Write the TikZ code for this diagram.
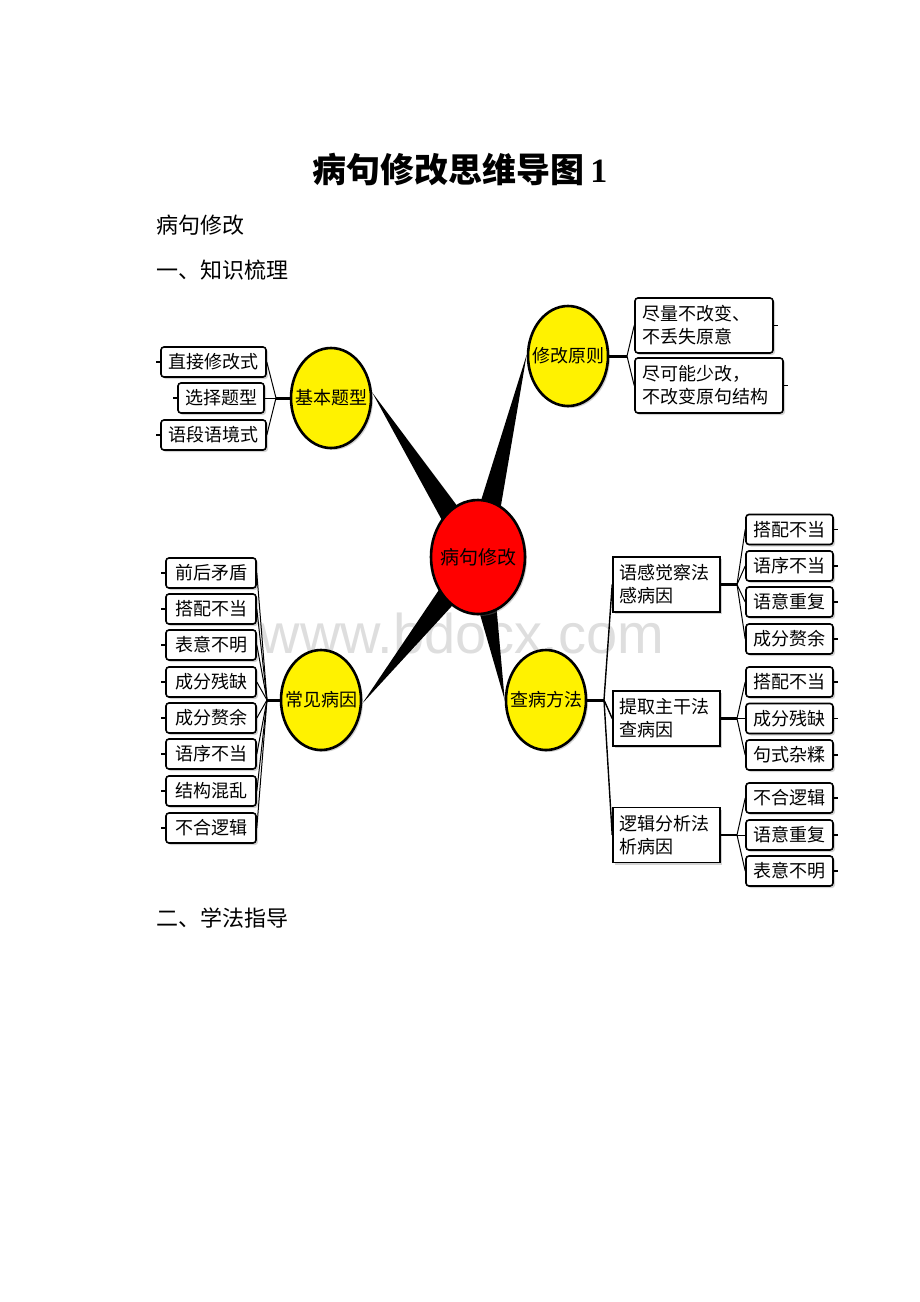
\documentclass[tikz,border=0pt]{standalone}
\usepackage{fontspec}
\setmainfont{Liberation Serif}
\newfontfamily\cjk{Noto Sans CJK SC}
\usetikzlibrary{shapes.geometric,calc,shadows,backgrounds}
\begin{document}
\begin{tikzpicture}[x=1pt,y=-1pt,
  shad/.style={drop shadow={opacity=0.35,shadow xshift=2pt,shadow yshift=-2pt}},
  ell/.style={ellipse,draw,line width=2.6pt,minimum width=80pt,minimum height=100pt,inner sep=0pt,fill=yellow,shad},
  lbl/.style={inner sep=0pt,font=\cjk\fontsize{18}{22}\selectfont},
  leaf/.style={draw,line width=1.6pt,rounded corners=3pt,fill=white,minimum height=30pt,inner sep=0pt,font=\cjk\fontsize{18}{22}\selectfont,shad},
  pbox/.style={draw,line width=1.6pt,rounded corners=3pt,fill=white,minimum height=55pt,inner xsep=7pt,inner ysep=0pt,align=left,font=\cjk\fontsize{18}{23}\selectfont,shad},
  mbox/.style={draw,line width=1.6pt,fill=white,minimum height=55pt,text width=95pt,inner xsep=6pt,inner ysep=0pt,align=left,font=\cjk\fontsize{18}{23}\selectfont,shad},
  trunk/.style={line width=3pt},
  twig/.style={line width=1pt},
  tick/.style={line width=1.2pt}
]
\useasboundingbox (0,0) rectangle (920,1302);

% page texts
\node[inner sep=0pt,font=\cjk\bfseries\fontsize{34}{40}\selectfont] (title) at (460,170) {病句修改思维导图\,{\rmfamily\bfseries 1}};
\node[anchor=west,inner sep=0pt,font=\cjk\fontsize{22}{26}\selectfont] (t1) at (156,225) {病句修改};
\node[anchor=west,inner sep=0pt,font=\cjk\fontsize{22}{26}\selectfont] (t2) at (156,270) {一、知识梳理};
\node[anchor=west,inner sep=0pt,font=\cjk\fontsize{22}{26}\selectfont] (t3) at (156,918) {二、学法指导};

% main nodes
\node[ellipse,draw,line width=2.6pt,minimum width=94pt,minimum height=114pt,inner sep=0pt,fill=red,shad] (c) at (478,557) {};
\node[lbl,font=\cjk\fontsize{19}{22}\selectfont] at (c) {病句修改};
\node[ell] (kb) at (331,398) {};
\node[lbl] at (kb) {基本题型};
\node[ell] (xg) at (568,356) {};
\node[lbl] at (xg) {修改原则};
\node[ell] (cj) at (321,700) {};
\node[lbl] at (cj) {常见病因};
\node[ell] (cf) at (546,700) {};
\node[lbl] at (cf) {查病方法};

% wedges and watermark behind
\begin{pgfonlayer}{background}
\node[inner sep=0pt,font=\fontspec{Liberation Sans}\fontsize{56}{60}\selectfont,text=black!13] (wm) at (462,633) {www.bdocx.com};
\foreach \t in {kb.8,xg.178,cj.355,cf.180}{
  \fill ($(c.center)!14pt!90:(\t)$) -- (\t) -- ($(c.center)!14pt!-90:(\t)$) -- cycle;
}
\end{pgfonlayer}

% basic types
\node[leaf,minimum width=105pt] (k1) at (213.5,362) {直接修改式};
\node[leaf,minimum width=86pt] (k2) at (221,398) {选择题型};
\node[leaf,minimum width=105pt] (k3) at (213.5,435) {语段语境式};
\coordinate (jk) at (276,398);
\draw[trunk] (kb.west) -- (jk);
\foreach \b in {k1,k2,k3}{
  \draw[twig] (jk) -- (\b.east);
  \draw[tick] (\b.west) -- ++(-4,0);
}

% principles
\node[pbox,minimum width=138pt,text width=124pt] (x1) at (704,325.5) {尽量不改变、\\不丢失原意};
\node[pbox,minimum width=148pt,text width=134pt] (x2) at (709,385.5) {尽可能少改，\\不改变原句结构};
\coordinate (jx) at (627,356);
\draw[trunk] (xg.east) -- (jx);
\foreach \b in {x1,x2}{
  \draw[twig] (jx) -- (\b.west);
  \draw[tick] (\b.east) -- ++(4,0);
}

% common causes
\coordinate (jc) at (267,700);
\draw[trunk] (cj.west) -- (jc);
\foreach \y/\txt [count=\i] in {573/前后矛盾,609/搭配不当,645/表意不明,682/成分残缺,718/成分赘余,754/语序不当,791/结构混乱,828/不合逻辑}{
  \node[leaf,minimum width=90pt] (l\i) at (211,\y) {\txt};
  \draw[twig] (jc) -- (l\i.east);
  \draw[tick] (l\i.west) -- ++(-4,0);
}

% checking methods
\node[mbox] (m1) at (666.5,584.5) {语感觉察法\\感病因};
\node[mbox] (m2) at (666.5,718.5) {提取主干法\\查病因};
\node[mbox] (m3) at (666.5,835) {逻辑分析法\\析病因};
\coordinate (jf) at (604,700);
\draw[trunk] (cf.east) -- (jf);
\foreach \b in {m1,m2,m3}{
  \draw[twig,line width=1.4pt] (jf) -- (\b.west);
}
\foreach \m/\jy in {m1/584.5,m2/718.5,m3/835}{
  \coordinate (j\m) at (737,\jy);
  \draw[trunk,line width=2.4pt] (\m.east) -- (j\m);
}
\foreach \y/\txt/\m [count=\i] in {529.5/搭配不当/m1,566/语序不当/m1,602/语意重复/m1,639/成分赘余/m1,682/搭配不当/m2,718.5/成分残缺/m2,755/句式杂糅/m2,798/不合逻辑/m3,835/语意重复/m3,871/表意不明/m3}{
  \node[leaf,minimum width=87pt] (r\i) at (789.5,\y) {\txt};
  \draw[twig] (j\m) -- (r\i.west);
  \draw[tick] (r\i.east) -- ++(4,0);
}
\end{tikzpicture}
\end{document}
